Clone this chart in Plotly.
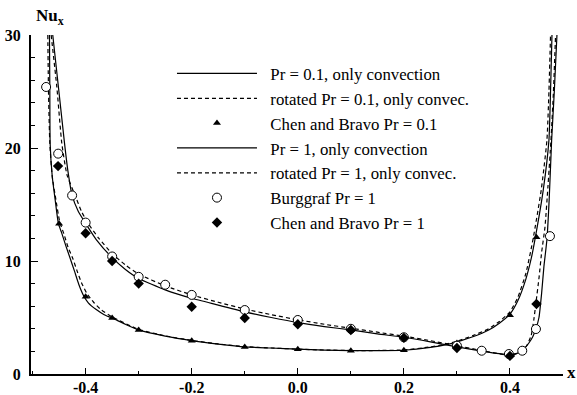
import plotly.graph_objects as go

# ---- data ----
pr01_x = [-0.4682, -0.4675, -0.4669, -0.4630, -0.4574, -0.4513, -0.4449, -0.4370, -0.4292, -0.4210,
          -0.4130, -0.4040, -0.395, -0.38, -0.365, -0.35, -0.325, -0.30, -0.25, -0.20, -0.15, -0.10, -0.05,
          0.0, 0.05, 0.10, 0.15, 0.20, 0.25, 0.28, 0.30, 0.33, 0.36, 0.38, 0.40, 0.415, 0.43, 0.44,
          0.4471, 0.4628, 0.4735, 0.4765, 0.4792]
pr01_nu = [30, 25, 20.4, 17.5, 15.4, 13.3, 12.45, 11.3, 10.24, 9.1,
           7.95, 6.95, 6.3, 5.7, 5.25, 4.95, 4.4, 3.9, 3.35, 2.95, 2.65, 2.4, 2.3,
           2.2, 2.12, 2.07, 2.06, 2.1, 2.35, 2.6, 2.85, 3.3, 3.9, 4.5, 5.3, 6.5, 8.4, 10.2,
           11.9, 16.3, 20.7, 25, 30]

rot01_x = [-0.4713, -0.4700, -0.4675, -0.4630, -0.4560, -0.4490, -0.4410, -0.4330, -0.4240, -0.4160,
           -0.4080, -0.3980, -0.385, -0.37, -0.35, -0.30, -0.25, -0.20, -0.15, -0.10, -0.05,
           0.0, 0.05, 0.10, 0.15, 0.20, 0.25, 0.28, 0.30, 0.33, 0.36, 0.38, 0.40, 0.415, 0.43,
           0.4434, 0.459, 0.4697, 0.4735, 0.4765]
rot01_nu = [30, 25, 20.4, 17.5, 15.4, 13.5, 12.4, 11.2, 10.2, 9.1,
            8.1, 7.15, 6.35, 5.65, 5.05, 3.95, 3.38, 2.97, 2.66, 2.42, 2.3,
            2.2, 2.12, 2.08, 2.08, 2.13, 2.4, 2.65, 2.9, 3.4, 4.0, 4.65, 5.5, 6.8, 8.9,
            11.9, 16.3, 20.7, 25, 30]

pr1_x = [-0.4620, -0.4513, -0.4400, -0.4335, -0.4255, -0.4140, -0.4010, -0.38, -0.35, -0.325,
         -0.30, -0.25, -0.20, -0.15, -0.10, -0.05, 0.0, 0.05, 0.10, 0.15, 0.20, 0.25, 0.30,
         0.35, 0.38, 0.40, 0.412, 0.4232, 0.435, 0.443, 0.449, 0.4547, 0.4598, 0.464, 0.4697,
         0.474, 0.4786, 0.4836, 0.4886]
pr1_nu = [30, 25.4, 20.5, 18, 15.8, 14.4, 13.4, 11.9, 10.3, 9.25,
          8.45, 7.45, 6.7, 6.1, 5.5, 5.0, 4.55, 4.2, 3.9, 3.55, 3.25, 2.85, 2.4,
          2.0, 1.8, 1.72, 1.8, 2.06, 2.7, 3.3, 4.0, 5.0, 7.2, 9.5, 11.9,
          15.5, 20.7, 25, 30]

rot1_x = [-0.4650, -0.4543, -0.4449, -0.4350, -0.4198, -0.4080, -0.3950, -0.375, -0.35, -0.325,
          -0.30, -0.25, -0.20, -0.15, -0.10, -0.05, 0.0, 0.05, 0.10, 0.15, 0.20, 0.25, 0.30,
          0.35, 0.38, 0.40, 0.412, 0.4232, 0.4315, 0.44, 0.445, 0.449, 0.455, 0.4598, 0.466,
          0.4715, 0.4773, 0.482, 0.486]
rot1_nu = [30, 25.4, 20.4, 17.6, 15.8, 14.4, 13.3, 12.0, 10.65, 9.65,
           8.85, 7.8, 7.0, 6.35, 5.75, 5.25, 4.8, 4.4, 4.05, 3.7, 3.35, 2.95, 2.5,
           2.05, 1.78, 1.65, 1.8, 2.1, 2.5, 3.4, 4.8, 6.3, 8.6, 10.8, 13.0,
           16.5, 20.7, 25, 30]

chen01_x = [-0.45, -0.40, -0.35, -0.30, -0.20, -0.10, 0.0, 0.10, 0.20, 0.30, 0.40, 0.45]
chen01_nu = [13.3, 6.84, 4.95, 3.9, 2.95, 2.4, 2.2, 2.06, 2.1, 2.75, 5.2, 12.1]

burg_x = [-0.4745, -0.4518, -0.4255, -0.40, -0.35, -0.30, -0.25, -0.20, -0.10, 0.0, 0.10,
          0.20, 0.30, 0.3467, 0.398, 0.4232, 0.449, 0.4754]
burg_nu = [25.4, 19.5, 15.8, 13.4, 10.4, 8.6, 7.9, 7.0, 5.66, 4.78, 4.0,
           3.25, 2.5, 2.06, 1.77, 2.06, 3.98, 12.2]

chen1_x = [-0.452, -0.40, -0.35, -0.30, -0.20, -0.10, 0.0, 0.10, 0.20, 0.30, 0.40, 0.45]
chen1_nu = [18.4, 12.45, 10.0, 8.0, 5.95, 4.95, 4.4, 3.9, 3.2, 2.3, 1.6, 6.2]

names = ["Pr = 0.1, only convection",
         "rotated Pr = 0.1, only convec.",
         "Chen and Bravo Pr = 0.1",
         "Pr = 1, only convection",
         "rotated Pr = 1, only convec.",
         "Burggraf Pr = 1",
         "Chen and Bravo Pr = 1"]

xtick_vals = [-0.4, -0.2, 0.0, 0.2, 0.4]
xtick_text = ["-0.4", "-0.2", "0.0", "0.2", "0.4"]
ytick_vals = [0, 10, 20, 30]
ytick_text = ["0", "10", "20", "30"]

pad = "&nbsp;&nbsp;"
fig = go.Figure()

def line_trace(x, y, name, dash, rank):
    return go.Scatter(x=x, y=y, mode="lines", name=pad + name, legendrank=rank,
                      line=dict(color="black", width=1.2, dash=dash, shape="spline", smoothing=0.5))

fig.add_trace(line_trace(pr01_x, pr01_nu, names[0], "solid", 1))
fig.add_trace(line_trace(rot01_x, rot01_nu, names[1], "4px,3px", 2))
fig.add_trace(line_trace(pr1_x, pr1_nu, names[3], "solid", 4))
fig.add_trace(line_trace(rot1_x, rot1_nu, names[4], "4px,3px", 5))

fig.add_trace(go.Scatter(x=chen01_x, y=chen01_nu, mode="markers", name=pad + names[2], legendrank=3,
                         marker=dict(symbol="triangle-up", size=7, color="black")))
fig.add_trace(go.Scatter(x=burg_x, y=burg_nu, mode="markers", name=pad + names[5], legendrank=6,
                         marker=dict(symbol="circle", size=9, color="white",
                                     line=dict(color="black", width=1))))
fig.add_trace(go.Scatter(x=chen1_x, y=chen1_nu, mode="markers", name=pad + names[6], legendrank=7,
                         marker=dict(symbol="diamond", size=8, color="black")))

tickfont = dict(family="Liberation Serif", size=16, color="black", weight="bold")

fig.update_layout(
    width=577, height=395,
    margin=dict(l=31, r=14, t=35, b=21, autoexpand=False),
    paper_bgcolor="white", plot_bgcolor="white",
    showlegend=True,
    legend=dict(x=0.265, y=0.938, xanchor="left", yanchor="top",
                bgcolor="rgba(0,0,0,0)", borderwidth=0, itemwidth=80,
                font=dict(family="Liberation Serif", size=16.8, color="black"),
                itemclick=False),
    xaxis=dict(range=[-0.503, 0.5], showgrid=False, zeroline=False, automargin=False,
               showline=True, linecolor="black", linewidth=2,
               ticks="inside", ticklen=6, tickwidth=1, tickcolor="black",
               tickvals=xtick_vals, ticktext=xtick_text, tickfont=tickfont,
               ticklabelstandoff=-2,
               minor=dict(dtick=0.1, tick0=0, ticks="inside", ticklen=3, tickcolor="black")),
    yaxis=dict(range=[0, 30], showgrid=False, zeroline=False, automargin=False,
               showline=True, linecolor="black", linewidth=2,
               ticks="inside", ticklen=7, tickwidth=1, tickcolor="black",
               tickvals=ytick_vals, ticktext=ytick_text, tickfont=tickfont,
               ticklabelstandoff=5,
               minor=dict(dtick=2, tick0=0, ticks="inside", ticklen=4, tickcolor="black")),
    annotations=[
        dict(text="Nu<sub>x</sub>", xref="paper", yref="paper", x=0.006, y=1.052,
             xanchor="left", yanchor="middle", showarrow=False,
             font=dict(family="Liberation Serif", size=17, color="black", weight="bold")),
        dict(text="x", xref="paper", yref="paper", x=1.004, y=0.005,
             xanchor="left", yanchor="middle", showarrow=False,
             font=dict(family="Liberation Serif", size=17, color="black", weight="bold")),
    ],
)

fig.write_html("out.html", config=dict(displayModeBar=False))
